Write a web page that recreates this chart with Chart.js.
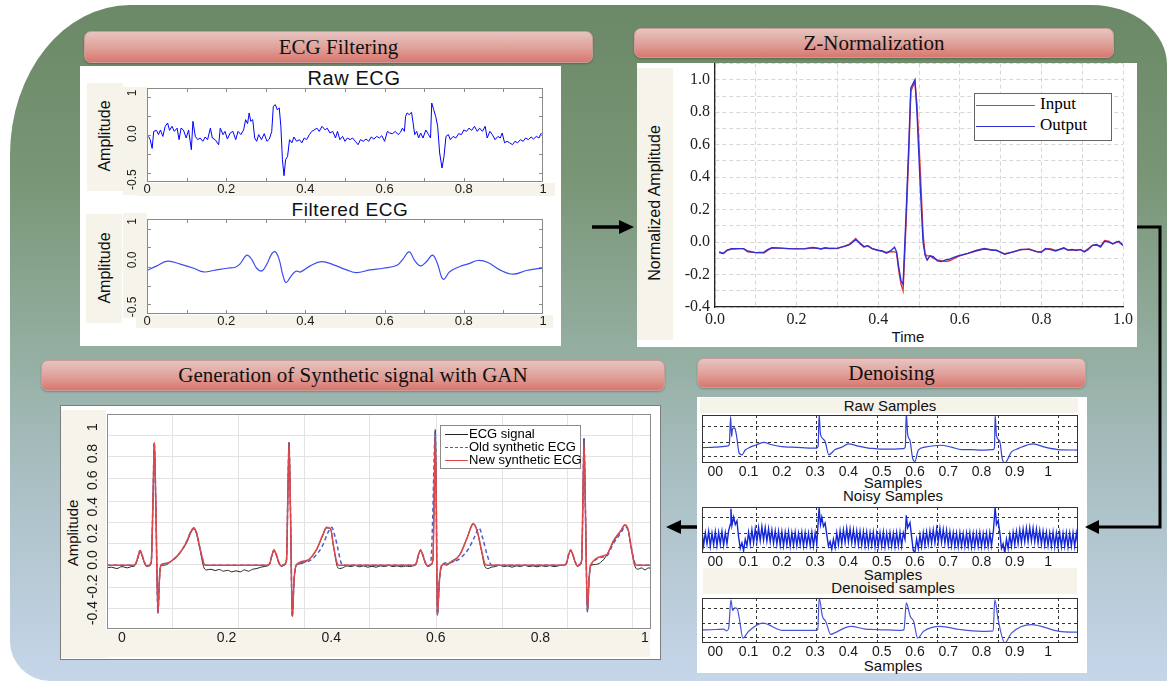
<!DOCTYPE html>
<html>
<head>
<meta charset="utf-8">
<script src="https://cdn.jsdelivr.net/npm/chart.js"></script>
<style>
  body { margin: 0; width: 1167px; height: 681px; overflow: hidden; background: #fff; position: relative; font-family: "Liberation Sans", Arial, sans-serif; }
  #bg { position: absolute; left: 10px; top: 5px; width: 1157px; height: 676px;
        border-radius: 120px 75px 0 40px / 150px 60px 0 40px;
        background: linear-gradient(180deg, #6b8966 0%, #789575 25%, #93ad9f 50%, #a9bfc3 70%, #c6d6ea 100%); }
  .panel { position: absolute; background: #fff; box-sizing: border-box; }
  .beige { position: absolute; background: #f6f3ea; }
  .hdr { position: absolute; border-radius: 7px; box-sizing: border-box; border: 1px solid #c99d97;
         background: linear-gradient(180deg, #e7c4c0 0%, #df9f98 55%, #d8776e 100%);
         box-shadow: 0 1px 2px rgba(0,0,0,0.25);
         font: 21px "Liberation Serif", "Times New Roman", serif; color: #111;
         display: flex; align-items: center; justify-content: center; }
  .t { position: absolute; transform: translate(-50%, -50%); white-space: nowrap; color: #111; }
  .r { position: absolute; transform: translate(-50%, -50%) rotate(-90deg); white-space: nowrap; color: #111; }
  canvas { position: absolute; }
  .lg { position: absolute; background: #fff; box-sizing: border-box; }
  .lgrow { position: absolute; white-space: nowrap; }
  .lgline { position: absolute; }
</style>
</head>
<body>
<div id="bg"></div>

<div class="hdr" style="left:84px;top:31px;width:509px;height:32px;">ECG Filtering</div>
<div class="hdr" style="left:634px;top:28px;width:480px;height:30px;">Z-Normalization</div>
<div class="hdr" style="left:41px;top:360px;width:624px;height:31px;">Generation of Synthetic signal with GAN</div>
<div class="hdr" style="left:697px;top:358px;width:389px;height:30px;">Denoising</div>

<!-- ECG filtering panel -->
<div class="panel" style="left:80px;top:66px;width:481px;height:280px;"></div>
<div class="beige" style="left:87px;top:83px;width:36px;height:108px;"></div>
<div class="beige" style="left:123px;top:87px;width:24px;height:108px;"></div>
<div class="beige" style="left:138px;top:183px;width:417px;height:13px;"></div>
<div class="beige" style="left:86px;top:214px;width:36px;height:109px;"></div>
<div class="beige" style="left:123px;top:213px;width:24px;height:105px;"></div>
<div class="beige" style="left:136px;top:315px;width:417px;height:13px;"></div>
<div class="t" style="left:354px;top:78px;font-size:20px;letter-spacing:0.6px;">Raw ECG</div>
<div class="t" style="left:350px;top:210px;font-size:19px;letter-spacing:0.6px;">Filtered ECG</div>
<div class="r" style="left:105px;top:136px;font:16px 'Liberation Sans Narrow','Liberation Sans',Arial;">Amplitude</div>
<div class="r" style="left:105px;top:268px;font:16px 'Liberation Sans Narrow','Liberation Sans',Arial;">Amplitude</div>
<canvas id="rawChart" width="472" height="116" style="left:85px;top:84px;"></canvas>
<canvas id="filtChart" width="472" height="117" style="left:85px;top:215px;"></canvas>

<!-- Z-normalization panel -->
<div class="panel" style="left:637px;top:63px;width:500px;height:284px;"></div>
<div class="beige" style="left:637px;top:68px;width:36px;height:272px;"></div>
<div class="r" style="left:655px;top:203px;font:16px 'Liberation Sans Narrow','Liberation Sans',Arial;">Normalized Amplitude</div>
<div class="t" style="left:908px;top:336px;font-size:15px;">Time</div>
<canvas id="zChart" width="473" height="282" style="left:670px;top:49px;"></canvas>
<div class="lg" style="left:974px;top:93px;width:138px;height:48px;border:1.5px solid #666;">
  <div class="lgline" style="left:1px;top:11px;width:59px;border-top:1.5px solid #e23b3b;"></div>
  <div class="lgrow" style="left:65px;top:0px;font:17px 'Liberation Serif',serif;">Input</div>
  <div class="lgline" style="left:1px;top:32px;width:59px;border-top:1.5px solid #2f2fd8;"></div>
  <div class="lgrow" style="left:65px;top:21px;font:17px 'Liberation Serif',serif;">Output</div>
</div>

<!-- GAN panel -->
<div class="panel" style="left:60px;top:405px;width:601px;height:255px;border:1px solid #7d7d7d;"></div>
<div class="beige" style="left:61px;top:410px;width:45px;height:248px;"></div>
<div class="beige" style="left:61px;top:630px;width:589px;height:27px;"></div>
<div class="r" style="left:72px;top:533px;font:15px 'Liberation Sans Narrow','Liberation Sans',Arial;">Amplitude</div>
<canvas id="ganChart" width="597" height="245" style="left:60px;top:410px;"></canvas>
<div class="lg" style="left:440px;top:425px;width:141px;height:44px;border:1px solid #8a8a8a;">
  <div class="lgline" style="left:4px;top:8px;width:23px;border-top:1.2px solid #222;"></div>
  <div class="lgrow" style="left:28px;top:0px;font-size:13px;">ECG signal</div>
  <div class="lgline" style="left:4px;top:21px;width:23px;border-top:1.5px dashed #4b5fc9;"></div>
  <div class="lgrow" style="left:28px;top:13px;font-size:13px;">Old synthetic ECG</div>
  <div class="lgline" style="left:4px;top:34px;width:23px;border-top:1.3px solid #e0474a;"></div>
  <div class="lgrow" style="left:28px;top:26px;font-size:13px;">New synthetic ECG</div>
</div>

<!-- Denoising panel -->
<div class="panel" style="left:697px;top:397px;width:390px;height:276px;"></div>
<div class="beige" style="left:700px;top:398px;width:378px;height:15px;"></div>
<div class="beige" style="left:703px;top:568px;width:374px;height:26px;"></div>
<div class="t" style="left:890px;top:405px;font-size:15px;">Raw Samples</div>
<div class="t" style="left:893px;top:482px;font-size:15px;">Samples</div>
<div class="t" style="left:893px;top:495px;font-size:15px;">Noisy Samples</div>
<div class="t" style="left:893px;top:574px;font-size:15px;">Samples</div>
<div class="t" style="left:893px;top:587px;font-size:15px;">Denoised samples</div>
<div class="t" style="left:893px;top:665px;font-size:15px;">Samples</div>
<canvas id="rawSampChart" width="386" height="64" style="left:700px;top:413px;"></canvas>
<canvas id="noisyChart" width="386" height="62" style="left:700px;top:505px;"></canvas>
<canvas id="denChart" width="386" height="61" style="left:700px;top:596px;"></canvas>

<!-- flow arrows -->
<svg width="1167" height="681" style="position:absolute;left:0;top:0;pointer-events:none;">
  <line x1="592" y1="227" x2="622" y2="227" stroke="#000" stroke-width="3.5"/>
  <polygon points="619,220 634,227 619,234" fill="#000"/>
  <polyline points="1137,227 1160,227 1160,527 1097,527" fill="none" stroke="#000" stroke-width="3"/>
  <polygon points="1099,520 1085,527 1099,534" fill="#000"/>
  <line x1="697" y1="527" x2="678" y2="527" stroke="#000" stroke-width="3.5"/>
  <polygon points="681,520 666,527 681,534" fill="#000"/>
</svg>

<script>
// ---------- ECG filtering ----------
const ecgXTicks = [0, 0.2, 0.4, 0.6, 0.8, 1];
const ecgXLabels = ['0', '0.2', '0.4', '0.6', '0.8', '1'];
const ecgMinorTicks = [0.1, 0.2, 0.3, 0.4, 0.5, 0.6, 0.7, 0.8, 0.9];
const rawYTicks = [-0.5, 0, 0.442];
const rawYLabels = ['-0.5', '0.0', '1'];
const rawSideTicks = [0.4, 0.19, -0.018, -0.22, -0.43];
const filtYTicks = [-0.5, 0, 0.408];
const filtYLabels = ['-0.5', '0.0', '1'];
const filtSideTicks = [0.326, 0.131, -0.071, -0.277, -0.472];

const rawT = [
  0.004,0.008,0.013,0.017,0.024,0.029,0.034,0.040,0.046,0.052,
  0.057,0.063,0.069,0.076,0.081,0.086,0.092,0.099,0.105,0.112,
  0.116,0.122,0.128,0.134,0.141,0.147,0.153,0.160,0.165,0.172,
  0.181,0.185,0.192,0.197,0.203,0.210,0.217,0.224,0.230,0.237,
  0.244,0.249,0.254,0.258,0.262,0.267,0.272,0.277,0.282,0.289,
  0.296,0.303,0.309,0.315,0.319,0.324,0.329,0.334,0.338,0.342,
  0.346,0.350,0.355,0.360,0.366,0.371,0.378,0.385,0.391,0.397,
  0.403,0.410,0.416,0.422,0.429,0.435,0.442,0.450,0.455,0.462,
  0.469,0.476,0.481,0.487,0.494,0.500,0.506,0.513,0.519,0.526,
  0.533,0.539,0.546,0.553,0.560,0.566,0.573,0.580,0.587,0.593,
  0.600,0.607,0.613,0.620,0.627,0.634,0.640,0.645,0.650,0.653,
  0.657,0.662,0.668,0.672,0.676,0.681,0.686,0.691,0.697,0.704,
  0.711,0.716,0.719,0.724,0.729,0.734,0.739,0.745,0.750,0.755,
  0.761,0.766,0.773,0.780,0.787,0.794,0.800,0.807,0.813,0.820,
  0.827,0.834,0.840,0.847,0.854,0.859,0.866,0.872,0.879,0.886,
  0.892,0.897,0.903,0.909,0.916,0.923,0.929,0.936,0.943,0.950,
  0.956,0.963,0.970,0.976,0.983,0.990,0.996
];
const rawAmp = [
  -0.03,-0.065,-0.16,0.025,0.036,-0.01,0.04,-0.03,0.08,0.116,
  0.036,0.08,0.025,0.06,-0.065,0.06,0.04,-0.047,0.04,-0.174,
  0.134,-0.03,-0.065,-0.047,-0.083,-0.036,-0.065,0.06,-0.047,-0.065,
  -0.12,0.06,-0.01,0.025,-0.058,0.007,0.025,-0.065,0.025,-0.01,
  0.04,0.152,0.109,0.225,0.134,0.152,-0.047,-0.083,-0.01,-0.065,
  0,-0.083,-0.058,0.025,0.297,0.315,0.26,0.279,0.08,-0.283,
  -0.457,-0.283,-0.246,-0.065,-0.1,-0.036,-0.083,-0.065,-0.1,-0.047,
  -0.065,-0.01,0.025,0.04,0.06,0.025,0.08,0.04,0.06,0.007,
  0.025,-0.047,0.025,-0.065,-0.03,-0.083,-0.047,-0.065,-0.047,-0.083,
  -0.12,-0.065,-0.083,-0.058,-0.083,-0.036,-0.058,-0.03,-0.047,-0.022,
  -0.083,0.025,0.007,0,0.025,-0.01,0.014,0.06,0.025,0.188,
  0.225,0.207,0.232,0.116,-0.01,0.025,-0.047,0.007,-0.047,0.04,
  -0.01,-0.047,0.333,0.26,0.188,0.08,-0.21,-0.373,-0.246,-0.03,
  -0.01,-0.065,-0.03,-0.047,0,-0.01,0.04,0.025,0.06,0.036,
  0.08,0.025,0.06,0.025,0.08,-0.047,0.025,-0.01,-0.065,-0.03,
  -0.047,0.007,-0.1,-0.083,-0.1,-0.12,-0.083,-0.1,-0.065,-0.083,
  -0.047,-0.065,-0.036,-0.058,-0.03,-0.047,0.007
];
const filtT = [
  0,0.025,0.052,0.084,0.118,0.143,0.168,0.202,0.223,0.235,
  0.252,0.265,0.277,0.29,0.303,0.315,0.324,0.334,0.343,0.351,
  0.363,0.376,0.388,0.412,0.441,0.471,0.504,0.529,0.563,0.597,
  0.63,0.645,0.662,0.676,0.691,0.706,0.721,0.733,0.744,0.75,
  0.765,0.79,0.811,0.836,0.861,0.891,0.924,0.958,0.983,1.0
];
const filtAmp = [
  -0.113,-0.064,-0.014,-0.046,-0.089,-0.128,-0.113,-0.089,-0.078,-0.043,
  0.05,0,-0.089,-0.117,-0.043,0.064,0.085,0,-0.16,-0.241,
  -0.177,-0.121,-0.128,-0.064,-0.018,-0.053,-0.106,-0.135,-0.106,-0.089,
  -0.06,0,0.085,-0.007,-0.064,-0.018,0.05,-0.035,-0.184,-0.206,
  -0.124,-0.071,-0.043,-0.007,-0.028,-0.106,-0.152,-0.113,-0.096,-0.089
];

// ---------- Z-normalization ----------
const zTime = [
  0.01,0.02,0.03,0.04,0.06,0.07,0.08,0.10,0.12,0.13,
  0.14,0.16,0.18,0.20,0.22,0.24,0.26,0.27,0.28,0.30,
  0.32,0.33,0.345,0.355,0.365,0.375,0.385,0.40,0.41,0.42,
  0.43,0.44,0.445,0.45,0.456,0.461,0.468,0.475,0.48,0.49,
  0.495,0.503,0.51,0.515,0.52,0.527,0.535,0.545,0.555,0.565,
  0.575,0.59,0.60,0.62,0.64,0.66,0.68,0.69,0.71,0.73,
  0.75,0.77,0.79,0.80,0.81,0.82,0.835,0.855,0.865,0.875,
  0.885,0.895,0.905,0.915,0.925,0.935,0.945,0.955,0.965,0.975,
  0.985,0.99,1.0
];
const zOutput = [
  -0.06,-0.07,-0.05,-0.04,-0.04,-0.04,-0.055,-0.065,-0.062,-0.045,
  -0.035,-0.037,-0.04,-0.042,-0.04,-0.033,-0.042,-0.035,-0.04,-0.037,
  -0.025,-0.015,0.015,-0.005,-0.028,-0.022,-0.04,-0.05,-0.055,-0.065,
  -0.055,-0.032,-0.06,-0.15,-0.24,-0.26,0.15,0.6,0.95,1.0,
  0.8,0.35,0.0,-0.08,-0.11,-0.085,-0.09,-0.115,-0.12,-0.11,
  -0.105,-0.09,-0.082,-0.07,-0.052,-0.04,-0.05,-0.05,-0.075,-0.06,
  -0.045,-0.045,-0.06,-0.062,-0.04,-0.045,-0.055,-0.035,-0.05,-0.045,
  -0.052,-0.045,-0.06,-0.045,-0.02,-0.015,-0.03,0.005,0.0,-0.01,
  0.0,0.005,-0.02
];
const zInput = [
  -0.065,-0.07,-0.05,-0.045,-0.04,-0.04,-0.06,-0.065,-0.068,-0.05,
  -0.035,-0.037,-0.04,-0.04,-0.042,-0.035,-0.04,-0.038,-0.038,-0.04,
  -0.022,-0.012,0.022,-0.01,-0.03,-0.025,-0.04,-0.052,-0.056,-0.068,
  -0.058,-0.06,-0.065,-0.17,-0.26,-0.30,0.1,0.55,0.93,0.99,
  0.85,0.45,0.05,-0.075,-0.085,-0.085,-0.1,-0.11,-0.115,-0.12,
  -0.115,-0.095,-0.085,-0.07,-0.055,-0.043,-0.048,-0.052,-0.072,-0.062,
  -0.048,-0.043,-0.06,-0.058,-0.045,-0.04,-0.052,-0.038,-0.048,-0.05,
  -0.048,-0.047,-0.058,-0.04,-0.02,-0.018,-0.025,0.01,0.005,-0.012,
  0.003,0.0,-0.02
];

// ---------- GAN synthetic ECG ----------
const ganXTicks = [0, 0.2, 0.4, 0.6, 0.8, 1];
const ganXLabels = ['0', '0.2', '0.4', '0.6', '0.8', '1'];
const ganYTicks = [-0.4, -0.2, 0, 0.2, 0.4, 0.6, 0.8, 1];
const ganYLabels = ['-0.4', '-0.2', '0.0', '0.2', '0.4', '0.6', '0.8', '1'];
const ganGridX = [0.0975, 0.2218, 0.348, 0.4723, 0.6004, 0.7266, 0.8509, 0.977];
const ganGridY = [0.933, 0.775, 0.609, 0.443, 0.285, 0.127, -0.038, -0.204, -0.362];

const ecgSigX = [
  -0.03,-0.02,-0.01,0.0,0.01,0.018,0.024,0.031,0.0344,0.038,
  0.043,0.047,0.052,0.056,0.0595,0.0618,0.0645,0.0688,0.0715,0.074,
  0.08,0.0854,0.095,0.1045,0.11,0.117,0.125,0.13,0.1377,0.1428,
  0.149,0.1568,0.162,0.17,0.178,0.186,0.194,0.202,0.21,0.218,
  0.226,0.234,0.242,0.25,0.258,0.265,0.272,0.278,0.282,0.287,
  0.2906,0.295,0.3,0.305,0.31,0.3145,0.3172,0.3193,0.322,0.3257,
  0.329,0.333,0.34,0.353,0.362,0.372,0.384,0.391,0.399,0.404,
  0.4117,0.416,0.422,0.43,0.438,0.446,0.454,0.462,0.47,0.478,
  0.486,0.494,0.502,0.51,0.518,0.526,0.534,0.542,0.55,0.556,
  0.562,0.567,0.571,0.575,0.58,0.585,0.59,0.5945,0.597,0.599,
  0.601,0.603,0.607,0.611,0.616,0.6206,0.63,0.646,0.66,0.6717,
  0.679,0.6877,0.694,0.7,0.706,0.714,0.722,0.73,0.738,0.746,
  0.754,0.762,0.77,0.778,0.786,0.794,0.802,0.81,0.818,0.826,
  0.834,0.842,0.849,0.854,0.858,0.862,0.867,0.871,0.875,0.879,
  0.8815,0.8834,0.886,0.89,0.893,0.896,0.905,0.915,0.9268,0.939,
  0.9535,0.9617,0.968,0.9745,0.981,0.987,0.993,1.0,1.007,1.015
];
const ecgSigY = [
  -0.06,-0.055,-0.065,-0.05,-0.06,-0.05,-0.045,0.02,0.065,0.035,
  -0.025,-0.05,-0.045,-0.015,0.5,0.875,0.45,-0.39,-0.15,-0.05,
  -0.04,-0.035,-0.005,0.02,0.05,0.085,0.14,0.19,0.235,0.19,
  0.08,-0.06,-0.075,-0.07,-0.08,-0.072,-0.085,-0.078,-0.09,-0.082,
  -0.09,-0.075,-0.085,-0.07,-0.065,-0.055,-0.05,-0.045,-0.035,0.035,
  0.07,0.035,-0.025,-0.05,-0.04,-0.005,0.5,0.885,0.4,-0.425,
  -0.15,-0.045,-0.03,-0.01,0.02,0.075,0.185,0.24,0.23,0.11,
  -0.05,-0.065,-0.06,-0.045,-0.05,-0.042,-0.052,-0.045,-0.055,-0.048,
  -0.055,-0.045,-0.05,-0.042,-0.05,-0.045,-0.052,-0.046,-0.05,-0.045,
  -0.035,0.035,0.07,0.035,-0.025,-0.05,-0.04,-0.005,0.5,0.98,
  0.4,-0.416,-0.15,-0.05,-0.035,-0.04,-0.01,0.04,0.17,0.275,
  0.22,0.06,-0.05,-0.065,-0.055,-0.05,-0.04,-0.05,-0.045,-0.055,
  -0.045,-0.05,-0.04,-0.05,-0.045,-0.052,-0.044,-0.05,-0.043,-0.05,
  -0.045,-0.04,-0.035,0.035,0.07,0.035,-0.025,-0.05,-0.04,-0.005,
  0.5,0.915,0.4,-0.39,-0.15,-0.045,-0.035,-0.02,0.035,0.13,
  0.215,0.26,0.22,0.07,-0.05,-0.07,-0.06,-0.075,-0.06,-0.07
];
const oldSynX = [
  -0.03,0.02,0.026,0.031,0.0344,0.038,0.043,0.047,0.052,0.056,
  0.0595,0.0618,0.0645,0.0688,0.0715,0.074,0.0854,0.1045,0.117,0.125,
  0.13,0.1377,0.1428,0.149,0.1568,0.16,
  0.275,0.282,0.287,0.2906,0.295,0.3,0.305,0.31,0.3145,0.3172,
  0.3193,0.322,0.3257,0.329,0.333,0.353,0.372,0.385,0.393,0.401,
  0.407,0.413,0.418,0.422,
  0.555,0.562,0.567,0.571,0.575,0.58,0.585,0.59,0.594,0.597,
  0.599,0.601,0.603,0.607,0.611,0.625,0.646,0.662,0.675,0.6826,
  0.69,0.698,0.707,
  0.842,0.849,0.854,0.858,0.862,0.867,0.871,0.875,0.879,0.8815,
  0.8834,0.886,0.89,0.893,0.896,0.9268,0.939,0.9535,0.962,0.968,
  0.975,0.982,0.986,1.02
];
const oldSynY = [
  -0.04,-0.04,-0.03,0.03,0.07,0.04,-0.02,-0.045,-0.04,-0.01,
  0.5,0.885,0.45,-0.4,-0.15,-0.04,-0.025,0.025,0.09,0.15,
  0.2,0.24,0.2,0.09,-0.03,-0.04,
  -0.04,-0.03,0.04,0.075,0.04,-0.02,-0.045,-0.035,0.0,0.5,
  0.88,0.4,-0.43,-0.15,-0.04,-0.015,0.04,0.12,0.2,0.245,
  0.18,0.08,-0.01,-0.04,
  -0.04,-0.03,0.04,0.075,0.04,-0.02,-0.045,-0.035,0.3,0.8,
  0.97,0.4,-0.41,-0.15,-0.04,-0.02,0.01,0.08,0.18,0.24,
  0.16,0.04,-0.04,
  -0.04,-0.03,0.04,0.075,0.04,-0.02,-0.045,-0.035,0.0,0.5,
  0.9,0.4,-0.39,-0.15,-0.04,0.03,0.12,0.2,0.25,0.22,
  0.07,-0.035,-0.04,-0.04
];
const newSynX = [
  -0.03,0.02,0.026,0.031,0.0344,0.038,0.043,0.047,0.052,0.056,
  0.0595,0.0618,0.0645,0.0688,0.0715,0.074,0.0854,0.1045,0.117,0.125,
  0.13,0.1377,0.1428,0.149,0.1568,0.16,
  0.275,0.282,0.287,0.2906,0.295,0.3,0.305,0.31,0.3145,0.3172,
  0.3193,0.322,0.3257,0.329,0.333,0.353,0.372,0.384,0.391,0.399,
  0.404,0.4117,0.415,
  0.555,0.562,0.567,0.571,0.575,0.58,0.585,0.59,0.5945,0.597,
  0.599,0.601,0.603,0.607,0.611,0.6206,0.646,0.66,0.6717,0.679,
  0.6877,0.694,0.698,
  0.842,0.849,0.854,0.858,0.862,0.867,0.871,0.875,0.879,0.8815,
  0.8834,0.886,0.89,0.893,0.896,0.9268,0.939,0.9535,0.9617,0.968,
  0.9745,0.981,0.985,1.02
];
const newSynY = [
  -0.04,-0.04,-0.03,0.03,0.07,0.04,-0.02,-0.045,-0.04,-0.01,
  0.5,0.885,0.45,-0.4,-0.15,-0.04,-0.025,0.025,0.09,0.15,
  0.2,0.24,0.2,0.09,-0.03,-0.04,
  -0.04,-0.03,0.04,0.075,0.04,-0.02,-0.045,-0.035,0.0,0.5,
  0.88,0.4,-0.42,-0.15,-0.04,-0.005,0.08,0.19,0.245,0.235,
  0.115,-0.03,-0.04,
  -0.04,-0.03,0.04,0.075,0.04,-0.02,-0.045,-0.035,0.0,0.5,
  0.94,0.4,-0.416,-0.15,-0.04,-0.03,0.04,0.165,0.27,0.22,
  0.07,-0.03,-0.04,
  -0.04,-0.03,0.04,0.075,0.04,-0.02,-0.045,-0.035,0.0,0.5,
  0.88,0.4,-0.385,-0.15,-0.04,0.04,0.14,0.22,0.265,0.225,
  0.075,-0.035,-0.04,-0.04
];

// ---------- Denoising ----------
const denXTicks = [0, 0.1, 0.2, 0.3, 0.4, 0.5, 0.6, 0.7, 0.8, 0.9, 1];
const denXLabels = ['00', '0.1', '0.2', '0.3', '0.4', '0.5', '0.6', '0.7', '0.8', '0.9', '1'];
const denGridX = [0.124, 0.305, 0.488, 0.669, 0.851, 1.03];
const denGridY = [0.13, 0.43, 0.77];

const rawSampX = [
  -0.04,0.0,0.02,0.035,0.042,0.046,0.049,0.052,0.058,0.063,
  0.072,0.08,0.09,0.105,0.12,0.145,0.17,0.2,0.23,0.26,
  0.29,0.305,0.309,0.312,0.316,0.324,0.33,0.341,0.36,0.38,
  0.4,0.43,0.46,0.48,0.5,0.53,0.565,0.571,0.574,0.578,
  0.585,0.593,0.6,0.61,0.63,0.677,0.71,0.74,0.77,0.8,
  0.835,0.839,0.841,0.845,0.855,0.862,0.87,0.89,0.91,0.955,
  0.99,1.03,1.09
];
const rawSampY = [
  0.32,0.33,0.34,0.35,0.38,0.97,0.55,0.72,0.73,0.6,
  0.2,0.17,0.27,0.33,0.37,0.43,0.38,0.34,0.33,0.32,
  0.31,0.31,0.35,1.02,0.6,0.5,0.45,0.17,0.28,0.33,
  0.4,0.35,0.31,0.3,0.29,0.29,0.3,0.34,1.05,0.6,
  0.47,0.1,0.03,0.27,0.33,0.37,0.33,0.28,0.28,0.27,
  0.28,0.32,1.0,0.57,0.45,0.1,0.0,0.23,0.3,0.4,
  0.33,0.28,0.27
];
const noisyX = [
  -0.04,-0.035,-0.03,-0.025,-0.02,-0.015,-0.01,-0.005,0,0.005,0.01,0.015,0.02,0.025,0.03,0.035,0.04,
  0.045,0.047,0.05,0.055,0.06,0.065,0.07,0.075,0.08,0.085,0.09,
  0.095,0.1,0.105,0.11,0.115,0.12,0.125,0.13,0.135,0.14,0.145,0.15,0.155,0.16,0.165,0.17,0.175,0.18,0.185,0.19,
  0.195,0.2,0.205,0.21,0.215,0.22,0.225,0.23,0.235,0.24,0.245,0.25,0.255,0.26,0.265,0.27,0.275,0.28,0.285,0.29,
  0.295,0.3,0.305,
  0.308,0.312,0.316,0.32,0.325,0.33,0.335,0.34,0.345,0.35,0.355,
  0.36,0.365,0.37,0.375,0.38,0.385,0.39,0.395,0.4,0.405,0.41,0.415,0.42,0.425,0.43,0.435,0.44,0.445,0.45,0.455,
  0.46,0.465,0.47,0.475,0.48,0.485,0.49,0.495,0.5,0.505,0.51,0.515,0.52,0.525,0.53,0.535,0.54,0.545,0.55,0.555,
  0.56,0.565,
  0.57,0.574,0.578,0.585,0.59,0.595,0.6,0.605,0.61,
  0.615,0.62,0.625,0.63,0.635,0.64,0.645,0.65,0.655,0.66,0.665,0.67,0.675,0.68,0.685,0.69,0.695,0.7,0.705,0.71,
  0.715,0.72,0.725,0.73,0.735,0.74,0.745,0.75,0.755,0.76,0.765,0.77,0.775,0.78,0.785,0.79,0.795,0.8,0.805,0.81,
  0.815,0.82,0.825,0.83,
  0.836,0.841,0.845,0.85,0.855,0.86,0.865,0.87,0.875,0.88,
  0.885,0.89,0.895,0.9,0.905,0.91,0.915,0.92,0.925,0.93,0.935,0.94,0.945,0.95,0.955,0.96,0.965,0.97,0.975,0.98,
  0.985,0.99,0.995,1,1.005,1.01,1.015,1.02,1.025,1.03,1.035,1.04,1.045,1.05,1.055,1.06,1.065,1.07,1.075,1.08,
  1.085,1.09
];
const noisyY = [
  0.46,0.17,0.44,0.2,0.47,0.15,0.43,0.18,0.46,0.16,0.45,0.19,0.47,0.17,0.44,0.2,0.48,
  0.62,0.96,0.6,0.78,0.62,0.7,0.35,0.1,0.22,0.05,0.3,
  0.16,0.45,0.2,0.5,0.22,0.52,0.25,0.55,0.27,0.57,0.28,0.55,0.26,0.53,0.24,0.5,0.21,0.48,0.19,0.47,
  0.17,0.46,0.16,0.45,0.18,0.46,0.15,0.44,0.17,0.45,0.16,0.43,0.18,0.45,0.15,0.44,0.17,0.43,0.16,0.45,
  0.15,0.44,0.2,
  0.55,0.98,0.62,0.78,0.58,0.65,0.4,0.15,0.25,0.08,0.3,
  0.12,0.44,0.18,0.48,0.2,0.5,0.23,0.53,0.24,0.52,0.22,0.5,0.2,0.48,0.18,0.47,0.17,0.46,0.16,0.45,
  0.15,0.44,0.17,0.45,0.14,0.43,0.16,0.44,0.15,0.45,0.14,0.43,0.16,0.44,0.15,0.43,0.14,0.44,0.16,0.45,
  0.15,0.44,
  0.3,0.82,0.55,0.66,0.35,0.05,0.02,0.3,0.1,
  0.4,0.14,0.44,0.17,0.46,0.19,0.48,0.21,0.5,0.22,0.52,0.24,0.53,0.23,0.51,0.21,0.49,0.18,0.46,0.16,
  0.44,0.15,0.43,0.14,0.44,0.15,0.42,0.14,0.43,0.15,0.44,0.13,0.42,0.14,0.43,0.15,0.44,0.14,0.42,0.15,
  0.43,0.14,0.44,0.16,
  0.5,1.0,0.62,0.7,0.45,0.1,0.2,0.0,0.3,0.1,
  0.4,0.15,0.45,0.18,0.47,0.2,0.5,0.22,0.52,0.24,0.54,0.25,0.55,0.26,0.54,0.24,0.52,0.22,0.49,0.19,
  0.47,0.17,0.45,0.16,0.44,0.15,0.45,0.14,0.43,0.15,0.44,0.14,0.43,0.15,0.44,0.13,0.43,0.15,0.44,0.14,
  0.43,0.16
];
const denoisedX = [
  -0.04,0.0,0.025,0.033,0.04,0.047,0.052,0.058,0.066,0.072,
  0.083,0.1,0.143,0.19,0.2,0.25,0.3,0.308,0.312,0.322,
  0.332,0.347,0.357,0.407,0.45,0.477,0.52,0.56,0.567,0.574,
  0.586,0.596,0.608,0.626,0.676,0.735,0.8,0.835,0.84,0.85,
  0.87,0.89,0.95,1.034,1.09
];
const denoisedY = [
  0.29,0.3,0.31,0.27,0.32,0.96,0.72,0.78,0.76,0.55,
  0.11,0.26,0.44,0.3,0.28,0.28,0.28,0.3,1.0,0.59,
  0.48,0.19,0.22,0.37,0.31,0.3,0.29,0.28,0.3,0.89,
  0.59,0.48,0.11,0.26,0.37,0.3,0.26,0.27,0.96,0.52,
  0.0,0.22,0.41,0.26,0.24
];

// ---------- helpers ----------
Chart.defaults.font.family = '"Liberation Sans", Arial, sans-serif';
Chart.defaults.color = '#1a1a1a';

const pts = (xs, ys) => xs.map((x, i) => ({ x, y: ys[i] }));
const line = (xs, ys, color, width, extra) => Object.assign({
  data: pts(xs, ys), borderColor: color, borderWidth: width, pointRadius: 0, fill: false, tension: 0
}, extra || {});
const smooth = { cubicInterpolationMode: 'monotone' };

// box frame, inward tick marks and rotated y labels
const framePlugin = {
  id: 'frame',
  afterDatasetsDraw(chart, args, o) {
    const ctx = chart.ctx, a = chart.chartArea;
    ctx.save();
    if (o.color) {
      ctx.strokeStyle = o.color;
      ctx.lineWidth = o.width || 1;
      ctx.strokeRect(Math.round(a.left) + 0.5, Math.round(a.top) + 0.5,
        Math.round(a.right - a.left) - 1, Math.round(a.bottom - a.top) - 1);
    }
    if (o.tickLen) {
      ctx.beginPath();
      (o.xTicks || []).forEach(v => {
        const x = Math.round(chart.scales.x.getPixelForValue(v)) + 0.5;
        ctx.moveTo(x, a.top); ctx.lineTo(x, a.top + o.tickLen);
        ctx.moveTo(x, a.bottom); ctx.lineTo(x, a.bottom - o.tickLen);
      });
      (o.yTicks || []).forEach(v => {
        const y = Math.round(chart.scales.y.getPixelForValue(v)) + 0.5;
        ctx.moveTo(a.left, y); ctx.lineTo(a.left + o.tickLen, y);
        ctx.moveTo(a.right, y); ctx.lineTo(a.right - o.tickLen, y);
      });
      ctx.stroke();
    }
    if (o.yLabels) {
      const s = chart.scales.y;
      ctx.fillStyle = o.labelColor || '#1a1a1a';
      ctx.font = o.labelFont;
      ctx.textAlign = 'center';
      ctx.textBaseline = 'middle';
      o.yLabels.forEach((txt, i) => {
        ctx.save();
        ctx.translate(a.left - o.labelGap, s.getPixelForValue(o.yValues[i]));
        ctx.rotate(-Math.PI / 2);
        ctx.fillText(txt, 0, 0);
        ctx.restore();
      });
    }
    ctx.restore();
  }
};

const hiddenY = (min, max, w) => ({
  type: 'linear', min, max,
  ticks: { display: false }, grid: { display: false, drawTicks: false }, border: { display: false },
  afterFit: s => { s.width = w; }
});
const labelX = (min, max, values, labels, font, pad, h) => ({
  type: 'linear', min, max,
  afterBuildTicks: s => { s.ticks = values.map(v => ({ value: v })); },
  ticks: { callback: (v, i) => labels[i], font, color: '#1a1a1a', padding: pad, maxRotation: 0, minRotation: 0, autoSkip: false },
  grid: { display: false, drawTicks: false }, border: { display: false },
  afterFit: s => { s.height = h; }
});
const gridAxis = (axis, min, max, values, color, dash) => ({
  type: 'linear', axis, position: axis === 'x' ? 'bottom' : 'left', min, max,
  afterBuildTicks: s => { s.ticks = values.map(v => ({ value: v })); },
  ticks: { display: false },
  grid: { color, drawTicks: false, lineWidth: 1 },
  border: { display: false, dash: dash || [] },
  afterFit: s => { if (axis === 'x') s.height = 0; else s.width = 0; }
});

function plotChart(id, datasets, scales, frame, pad) {
  return new Chart(document.getElementById(id), {
    type: 'line',
    data: { datasets },
    options: {
      responsive: false, animation: false, devicePixelRatio: 1,
      layout: { padding: { top: pad[0], right: pad[1], bottom: 0, left: 0 } },
      elements: { point: { radius: 0 } },
      plugins: { legend: { display: false }, tooltip: { enabled: false }, frame },
      scales
    },
    plugins: [framePlugin]
  });
}

// ---------- ECG filtering charts ----------
plotChart('rawChart',
  [line(rawT, rawAmp, '#0000ff', 1)],
  {
    x: labelX(0, 1, ecgXTicks, ecgXLabels, { size: 13 }, 0, 18),
    y: hiddenY(-0.525, 0.496, 62)
  },
  { color: '#8a8a8a', tickLen: 4, xTicks: ecgMinorTicks, yTicks: rawSideTicks,
    yLabels: rawYLabels, yValues: rawYTicks, labelGap: 14,
    labelFont: '12px "Liberation Sans Narrow", "Liberation Sans", Arial' },
  [4, 14]);

plotChart('filtChart',
  [line(filtT, filtAmp, '#3b4cf2', 1.2, { tension: 0.4 })],
  {
    x: labelX(0, 1, ecgXTicks, ecgXLabels, { size: 13 }, 0, 18),
    y: hiddenY(-0.574, 0.433, 62)
  },
  { color: '#8a8a8a', tickLen: 4, xTicks: ecgMinorTicks, yTicks: filtSideTicks,
    yLabels: filtYLabels, yValues: filtYTicks, labelGap: 14,
    labelFont: '12px "Liberation Sans Narrow", "Liberation Sans", Arial' },
  [4, 14]);

// ---------- Z-normalization chart ----------
const evenLabel = v => { const k = Math.round(v * 10); return k % 2 === 0 ? (k / 10).toFixed(1) : ''; };
const serif = { family: '"Liberation Serif", "Times New Roman", serif', size: 16 };
plotChart('zChart',
  [
    line(zTime, zOutput, '#2f2fd8', 1.4),
    line(zTime, zInput, '#e23b3b', 1.4)
  ],
  {
    x: {
      type: 'linear', min: 0, max: 1,
      ticks: { stepSize: 0.1, callback: evenLabel, font: serif, color: '#222', padding: 3, maxRotation: 0, autoSkip: false },
      grid: { color: '#d6d6d6', drawTicks: false },
      border: { display: true, color: '#222', width: 1.3, dash: [4, 3] },
      afterFit: s => { s.height = 24; }
    },
    y: {
      type: 'linear', min: -0.4, max: 1.1,
      ticks: { stepSize: 0.1, callback: evenLabel, font: serif, color: '#222', padding: 5, autoSkip: false },
      grid: { color: '#d6d6d6', drawTicks: false },
      border: { display: true, color: '#222', width: 1.3, dash: [4, 3] },
      afterFit: s => { s.width = 45; }
    }
  },
  {},
  [10, 20]);

// ---------- GAN chart ----------
plotChart('ganChart',
  [
    line(newSynX, newSynY, '#e0474a', 1.5, smooth),
    line(oldSynX, oldSynY, '#4b5fc9', 1.5, Object.assign({ borderDash: [4, 3] }, smooth)),
    line(ecgSigX, ecgSigY, '#222222', 1, smooth)
  ],
  {
    x: labelX(-0.0287, 1.0115, ganXTicks, ganXLabels, { size: 14 }, 1, 26),
    y: hiddenY(-0.52, 1.098, 47),
    xg: gridAxis('x', -0.0287, 1.0115, ganGridX, '#e3e3e3'),
    yg: gridAxis('y', -0.52, 1.098, ganGridY, '#e3e3e3')
  },
  { color: '#8c8c8c', yLabels: ganYLabels, yValues: ganYTicks, labelGap: 14,
    labelFont: '14px "Liberation Sans Narrow", "Liberation Sans", Arial' },
  [4, 6]);

// ---------- Denoising charts ----------
const denScales = () => ({
  x: labelX(-0.04, 1.09, denXTicks, denXLabels, { size: 14 }, 1, 14),
  y: hiddenY(0, 1, 2),
  xg: gridAxis('x', -0.04, 1.09, denGridX, '#333', [3, 3]),
  yg: gridAxis('y', 0, 1, denGridY, '#333', [3, 3])
});
const denFrame = { color: '#333' };
plotChart('rawSampChart', [line(rawSampX, rawSampY, '#3343d6', 1.2, smooth)], denScales(), denFrame, [2, 8]);
plotChart('noisyChart', [line(noisyX, noisyY, '#1326dc', 1.4)], denScales(), denFrame, [2, 8]);
plotChart('denChart', [line(denoisedX, denoisedY, '#4654d8', 1.2, smooth)], denScales(), denFrame, [2, 8]);
</script>
</body>
</html>
